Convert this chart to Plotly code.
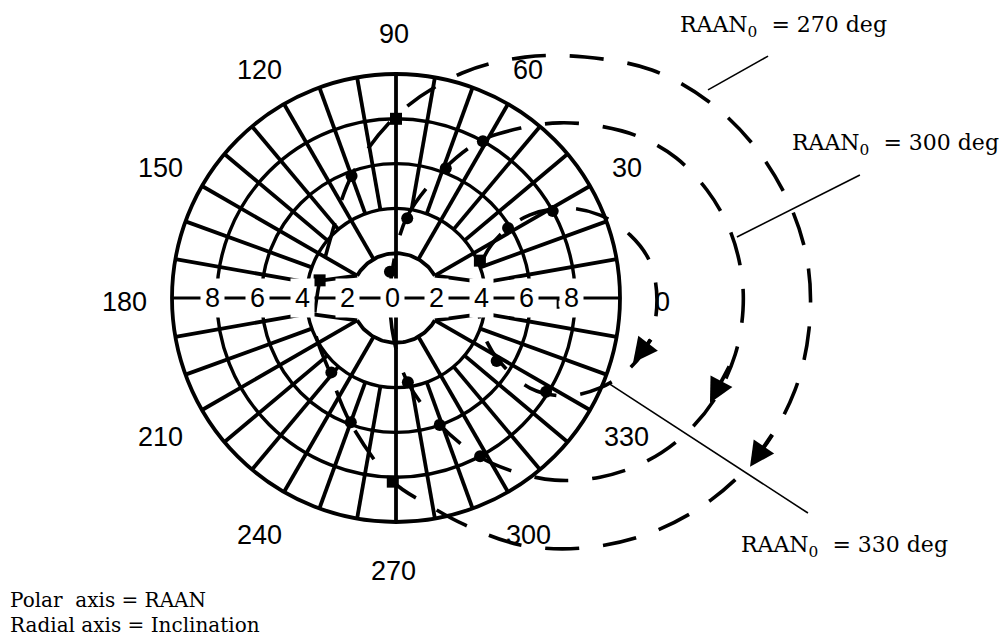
import numpy as np
import plotly.graph_objects as go

# ---------------- polar grid (radius = inclination deg, angle = RAAN deg) ----------------
grid_rings = [4, 6, 8, 10]
hub_ring = 2
hub_arcs = [(30, 150), (210, 330)]
hub_chords = [((2, 30), (4, 10)), ((2, 150), (4, 170)), ((2, 210), (4, 190)), ((2, 330), (4, 350))]
major_spokes = [30, 60, 120, 150, 210, 240, 300, 330]      # run from the hub ring
axis_spokes = [90, 270]                                   # run from the centre
minor_spokes = [a for a in range(10, 360, 10) if a % 30 != 0]  # run from r = 4
radial_ticks = [-8, -6, -4, -2, 0, 2, 4, 6, 8]
angular_ticks = [0, 30, 60, 90, 120, 150, 180, 210, 240, 270, 300, 330]

# ---------------- inclination-vector trajectories ----------------
# RAAN0 = 270 deg
incl_270 = [8.21, 5.90, 4.46, 3.89, 3.50, 3.92, 5.83, 8.17, 10.47, 12.20, 13.67, 15.30, 16.49,
            17.39, 18.07, 18.45, 18.49, 18.28, 17.69, 16.70, 15.45, 13.94, 12.34, 10.59, 9.24]
raan_270 = [269.1, 249.6, 228.7, 201.6, 174.1, 138.7, 109.7, 89.7, 73.6, 61.8, 51.9, 41.7, 32.1,
            22.8, 13.3, 4.6, 355.6, 347.0, 337.4, 327.3, 317.2, 306.8, 296.7, 286.9, 278.0]
# RAAN0 = 300 deg
incl_300 = [1.17, 3.65, 6.20, 8.03, 9.45, 10.71, 11.91, 13.05, 13.98, 14.69, 15.19, 15.45, 15.50,
            15.35, 14.91, 14.22, 13.31, 12.12, 10.79, 9.41, 8.03, 6.00, 3.83, 1.88, 0.41]
raan_300 = [98.8, 82.3, 69.3, 61.4, 53.5, 46.9, 40.1, 33.4, 26.6, 19.2, 11.9, 4.6, 358.0,
            350.5, 342.2, 334.3, 326.6, 318.7, 311.1, 304.4, 297.8, 289.1, 278.0, 267.3, 229.4]
# RAAN0 = 330 deg
incl_330 = [3.66, 4.16, 5.43, 7.04, 8.55, 9.83, 10.82, 11.45, 11.65, 11.49, 10.91, 9.95, 8.72,
            7.21, 5.45, 4.26]
raan_330 = [358.6, 22.7, 31.2, 31.8, 28.0, 22.1, 15.1, 8.1, 359.6, 350.6, 343.4, 336.2, 329.9,
            326.1, 328.4, 337.2]

# direction arrows on each path: (tail incl, tail raan, head incl, head raan)
arrow_270 = (17.88, 340.3, 17.51, 334.5)
arrow_300 = (15.21, 348.7, 14.78, 341.5)
arrow_330 = (11.57, 351.1, 10.97, 344.7)

# sampled states along the paths
dot_incl = [8.0, 6.2, 5.8, 3.6, 1.2, 8.0, 5.9, 4.4, 5.9, 3.8, 6.0, 8.0, 5.3, 7.9]
dot_raan = [61, 69, 110, 82, 103, 29, 32, 229, 250, 278, 289, 298, 328, 328]
square_incl = [8.2, 8.0, 3.5, 4.1]
square_raan = [269, 90, 167, 24]
pole_incl = [7.4]
pole_raan = [358]


def to_xy(incl, raan):
    incl = np.asarray(incl, dtype=float)
    ang = np.radians(np.asarray(raan, dtype=float))
    return incl * np.cos(ang), incl * np.sin(ang)


INK = "#000000"
fig = go.Figure()
shapes = []
annotations = []

# rings
for r in grid_rings:
    shapes.append(dict(type="circle", xref="x", yref="y", x0=-r, y0=-r, x1=r, y1=r,
                       line=dict(color=INK, width=3.8 if r == 10 else 3.4)))

# hub arcs and chords
hx, hy = [], []
for a0, a1 in hub_arcs:
    t = np.linspace(a0, a1, 60)
    x, y = to_xy(np.full_like(t, hub_ring), t)
    hx += list(x) + [None]
    hy += list(y) + [None]
for (r0, a0), (r1, a1) in hub_chords:
    x, y = to_xy([r0, r1], [a0, a1])
    hx += list(x) + [None]
    hy += list(y) + [None]

# spokes
for a in major_spokes:
    x, y = to_xy([hub_ring, 10], [a, a])
    hx += list(x) + [None]
    hy += list(y) + [None]
for a in axis_spokes:
    x, y = to_xy([0, 10], [a, a])
    hx += list(x) + [None]
    hy += list(y) + [None]
for a in minor_spokes:
    x, y = to_xy([4, 10], [a, a])
    hx += list(x) + [None]
    hy += list(y) + [None]
fig.add_trace(go.Scatter(x=hx, y=hy, mode="lines", line=dict(color=INK, width=3.8),
                         hoverinfo="skip", showlegend=False))

# horizontal radial axis
shapes.append(dict(type="line", xref="x", yref="y", x0=-10, y0=0, x1=10, y1=0,
                   line=dict(color=INK, width=3.2)))

# trajectories (closed dashed loops)
for inc, ra in [(incl_270, raan_270), (incl_300, raan_300), (incl_330, raan_330)]:
    x, y = to_xy(inc + inc[:1], ra + ra[:1])
    fig.add_trace(go.Scatter(x=x, y=y, mode="lines",
                             line=dict(color=INK, width=3.6, dash="34px,24px", shape="spline",
                                       smoothing=1.0),
                             hoverinfo="skip", showlegend=False))

# markers
x, y = to_xy(dot_incl, dot_raan)
fig.add_trace(go.Scatter(x=x, y=y, mode="markers",
                         marker=dict(symbol="circle", size=12, color=INK), showlegend=False))
x, y = to_xy(square_incl, square_raan)
fig.add_trace(go.Scatter(x=x, y=y, mode="markers",
                         marker=dict(symbol="square", size=12, color=INK), showlegend=False))
x, y = to_xy(pole_incl, pole_raan)
fig.add_trace(go.Scatter(x=x, y=y, mode="markers",
                         marker=dict(symbol="square-open", size=8, color=INK,
                                     line=dict(width=2, color=INK)), showlegend=False))

# direction arrows
for ti, tr, hi, hr in [arrow_270, arrow_300, arrow_330]:
    (tx,), (ty,) = to_xy([ti], [tr])
    (hx_,), (hy_,) = to_xy([hi], [hr])
    annotations.append(dict(x=hx_, y=hy_, ax=tx, ay=ty, xref="x", yref="y", axref="x", ayref="y",
                            text="", showarrow=True, arrowhead=2, arrowsize=1.3,
                            arrowwidth=3.8, arrowcolor=INK))

sans = dict(family="Liberation Sans, Arial, sans-serif", size=27, color=INK)
serif = dict(family="DejaVu Serif, serif", size=22, color=INK)
serif_small = dict(family="DejaVu Serif, serif", size=20, color=INK)

# radial tick labels on the horizontal axis
tick_shift = -0.17
for v in radial_ticks:
    annotations.append(dict(x=v + tick_shift, y=0, xref="x", yref="y", text=str(abs(v)),
                            showarrow=False, font=sans, bgcolor="white", borderpad=4,
                            xanchor="center", yanchor="middle"))

# angular tick labels
label_r, label_cx, label_cy = 12.0, -0.1, -0.2
for a in angular_ticks:
    lx = label_cx + label_r * np.cos(np.radians(a))
    ly = label_cy + label_r * np.sin(np.radians(a))
    annotations.append(dict(x=lx, y=ly, xref="x", yref="y", text=str(a), showarrow=False,
                            font=sans, xanchor="center", yanchor="middle"))

# callouts naming the initial RAAN of each path
callouts = [
    ("RAAN<sub>0</sub>  = 270 deg", 12.6, 12.1, (13.93, 9.29), (16.61, 10.80)),
    ("RAAN<sub>0</sub>  = 300 deg", 17.6, 6.85, (15.22, 2.72), (20.71, 5.49)),
    ("RAAN<sub>0</sub>  = 330 deg", 15.3, -11.1, (9.46, -3.79), (18.39, -9.60)),
]
for text, tx, ty, p0, p1 in callouts:
    annotations.append(dict(x=tx, y=ty, xref="x", yref="y", text=text, showarrow=False,
                            font=serif, xanchor="left", yanchor="middle"))
    shapes.append(dict(type="line", xref="x", yref="y", x0=p0[0], y0=p0[1], x1=p1[0], y1=p1[1],
                       line=dict(color=INK, width=1.6)))

# axis legend, bottom left
for line_text, py in [("Polar  axis = RAAN", 600), ("Radial axis = Inclination", 625)]:
    annotations.append(dict(x=9 / 1004, y=1 - py / 639, xref="paper", yref="paper",
                            text=line_text, showarrow=False, font=serif_small, align="left",
                            xanchor="left", yanchor="middle", borderpad=0))

S = 22.4  # pixels per degree of inclination
cx, cy = 396, 298
fig.update_layout(
    width=1004, height=639,
    margin=dict(l=0, r=0, t=0, b=0),
    paper_bgcolor="white", plot_bgcolor="white",
    xaxis=dict(range=[-cx / S, (1004 - cx) / S], visible=False, fixedrange=True),
    yaxis=dict(range=[(cy - 639) / S, cy / S], visible=False, fixedrange=True),
    shapes=shapes, annotations=annotations,
    showlegend=False,
)
fig.write_html("out.html")
